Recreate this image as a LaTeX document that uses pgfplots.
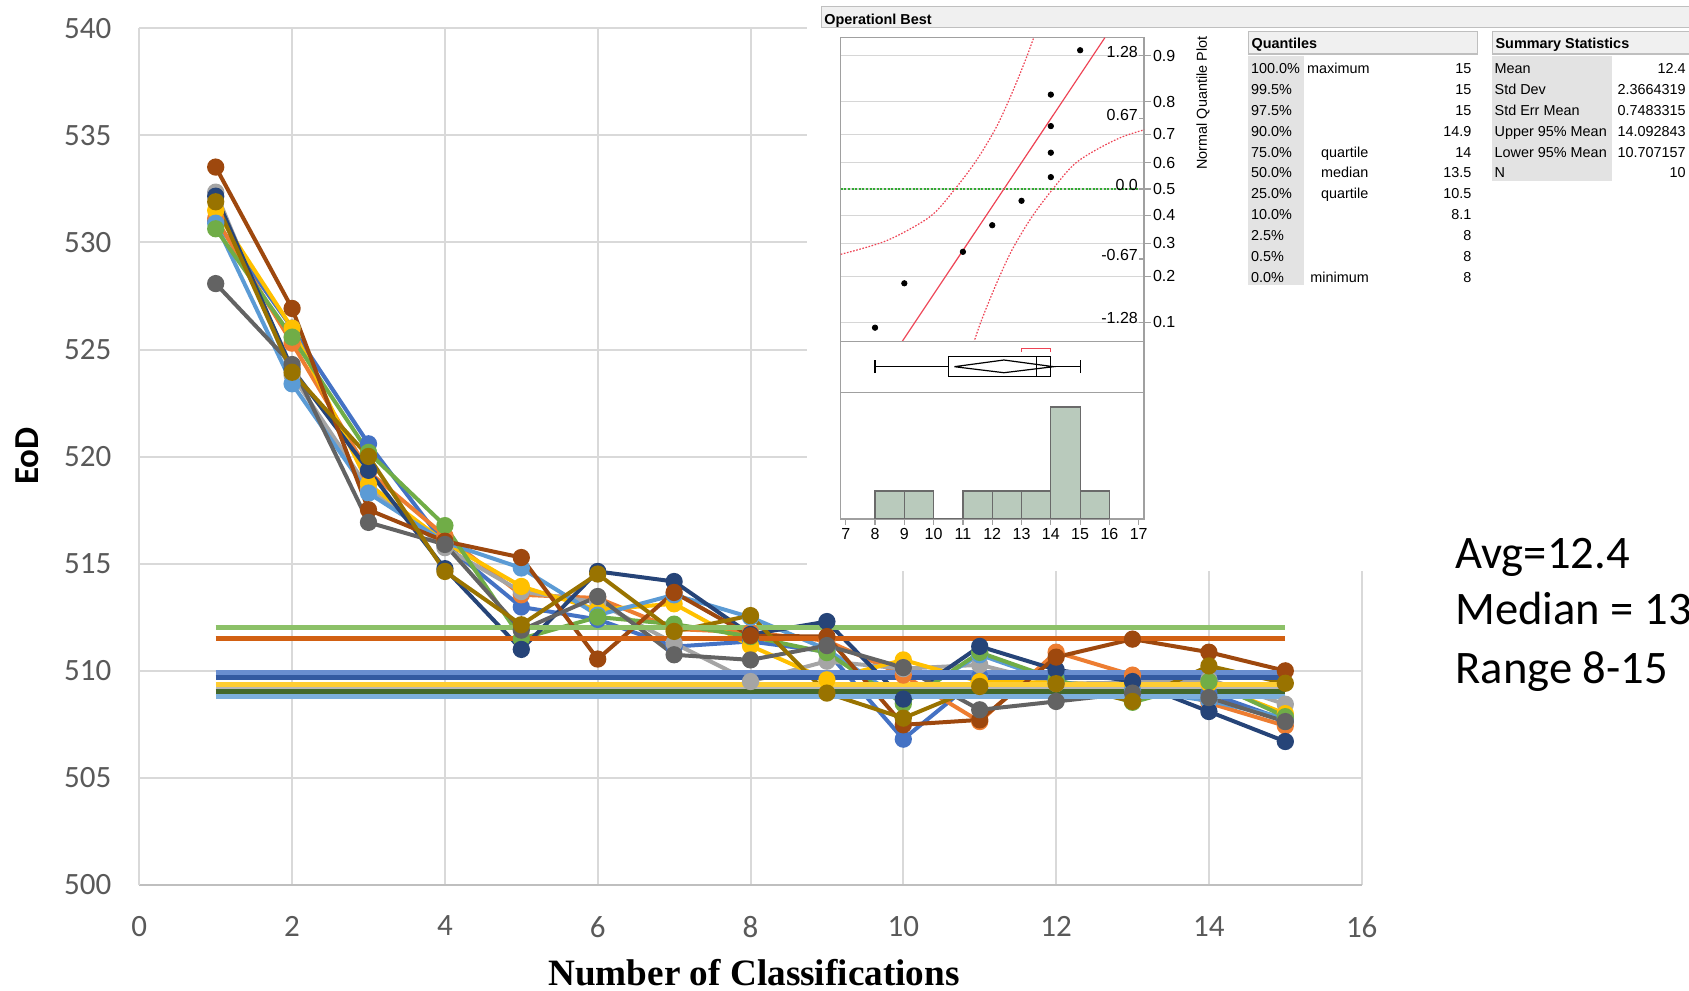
\documentclass[border=0pt]{standalone}
\usepackage{fontspec}
\setmainfont{Carlito}
\newfontfamily\jmpfont{Liberation Sans}
\newfontfamily\serifbf{Liberation Serif}
\usepackage{pgfplots}
\pgfplotsset{compat=1.18}

\definecolor{cA}{HTML}{4472C4}
\definecolor{cB}{HTML}{ED7D31}
\definecolor{cC}{HTML}{A5A5A5}
\definecolor{cD}{HTML}{FFC000}
\definecolor{cE}{HTML}{5B9BD5}
\definecolor{cF}{HTML}{70AD47}
\definecolor{cG}{HTML}{264478}
\definecolor{cH}{HTML}{9E480E}
\definecolor{cI}{HTML}{636363}
\definecolor{cJ}{HTML}{997300}
\definecolor{hA}{HTML}{8CC168}
\definecolor{hB}{HTML}{D26012}
\definecolor{hC}{HTML}{698ED0}
\definecolor{hD}{HTML}{335AA1}
\definecolor{hE}{HTML}{FFCD33}
\definecolor{hF}{HTML}{B7B7B7}
\definecolor{hG}{HTML}{43682B}
\definecolor{hH}{HTML}{7CAFDD}
\definecolor{gridc}{HTML}{D9D9D9}
\definecolor{axisc}{HTML}{BFBFBF}
\definecolor{tickc}{HTML}{595959}
\definecolor{jframe}{HTML}{A0A0A0}
\definecolor{jgrid}{HTML}{D6D6D6}
\definecolor{jhead}{HTML}{F0F0F0}
\definecolor{jcol}{HTML}{E3E3E3}
\definecolor{jred}{HTML}{EE4455}
\definecolor{jgreen}{HTML}{33AA33}
\definecolor{histfill}{HTML}{B9CABC}
\definecolor{histline}{HTML}{6A6A6A}

\newcommand\jf{\jmpfont\fontsize{7.2}{8.5}\selectfont}
\newcommand\jz{\jmpfont\fontsize{8}{9}\selectfont}

\pgfplotsset{
  series/.style={line width=2pt, mark=*, mark size=3.3pt, mark options={solid}},
  hline/.style={line width=2.5pt, no marks},
  jmpaxis/.style={scale only axis, anchor=south west, width=151.65pt,
    xmin=6.829, xmax=17.18, axis line style={jframe, line width=0.6pt},
    tick style={jframe, line width=0.6pt},
    /pgf/number format/assume math mode=true},
}

\begin{document}
\begin{tikzpicture}
\useasboundingbox (0,0) rectangle (844.5pt,495pt);
\clip (0,0) rectangle (844.5pt,495pt);

% main chart
\begin{axis}[at={(69.65pt,52.5pt)}, anchor=south west, scale only axis,
  width=611.2pt, height=428.35pt,
  xmin=0, xmax=16, ymin=500, ymax=540,
  xtick={0,2,...,16}, ytick={500,505,...,540},
  grid=major, major grid style={gridc, line width=1pt},
  axis lines*=left,
  x axis line style={axisc, line width=1.2pt},
  y axis line style={gridc, line width=1pt},
  major tick length=0pt,
  tick label style={font=\fontsize{15.5}{18}\selectfont, text=tickc},
  /pgf/number format/assume math mode=true,
  yticklabel style={xshift=-10.5pt},
  xticklabel style={yshift=-12pt},
]
\addplot[series, cA] coordinates {(1,531.0)(2,526.0)(3,520.6)(4,515.9)(5,512.98)(6,512.4)(7,511.13)(8,511.37)(9,510.9)(10,506.81)(11,509.73)(12,509.8)(13,509.6)(14,508.96)(15,507.7)};
\addplot[series, cB] coordinates {(1,531.12)(2,525.3)(3,519.3)(4,516.3)(5,513.55)(6,513.4)(7,511.95)(8,511.8)(9,511.4)(10,509.8)(11,507.63)(12,510.87)(13,509.8)(14,508.5)(15,507.43)};
\addplot[series, cC] coordinates {(1,532.35)(2,523.8)(3,518.5)(4,515.75)(5,513.7)(6,513.2)(7,511.29)(8,509.5)(9,510.45)(10,510.1)(11,510.28)(12,509.4)(13,509.45)(14,509.6)(15,508.44)};
\addplot[series, cD] coordinates {(1,531.5)(2,526.0)(3,518.72)(4,516.0)(5,513.94)(6,512.85)(7,513.13)(8,511.17)(9,509.58)(10,510.51)(11,509.5)(12,509.45)(13,509.3)(14,509.4)(15,508.0)};
\addplot[series, cE] coordinates {(1,530.9)(2,523.4)(3,518.3)(4,516.0)(5,514.8)(6,512.6)(7,513.55)(8,512.5)(9,511.0)(10,508.6)(11,510.75)(12,509.5)(13,509.1)(14,508.6)(15,507.8)};
\addplot[series, cF] coordinates {(1,530.64)(2,525.58)(3,520.2)(4,516.78)(5,511.5)(6,512.51)(7,512.18)(8,511.6)(9,510.85)(10,508.46)(11,510.86)(12,509.6)(13,508.53)(14,509.5)(15,507.86)};
\addplot[series, cG] coordinates {(1,532.16)(2,524.1)(3,519.36)(4,514.77)(5,511.0)(6,514.64)(7,514.17)(8,511.7)(9,512.3)(10,508.68)(11,511.14)(12,510.05)(13,509.5)(14,508.1)(15,506.7)};
\addplot[series, cH] coordinates {(1,533.52)(2,526.92)(3,517.52)(4,516.05)(5,515.29)(6,510.55)(7,513.66)(8,511.64)(9,511.6)(10,507.48)(11,507.71)(12,510.64)(13,511.48)(14,510.87)(15,510.0)};
\addplot[series, cI] coordinates {(1,528.08)(2,524.3)(3,516.93)(4,515.9)(5,511.9)(6,513.47)(7,510.75)(8,510.51)(9,511.18)(10,510.15)(11,508.18)(12,508.57)(13,508.96)(14,508.75)(15,507.63)};
\addplot[series, cJ] coordinates {(1,531.9)(2,523.94)(3,520.01)(4,514.64)(5,512.15)(6,514.52)(7,511.84)(8,512.58)(9,508.96)(10,507.79)(11,509.27)(12,509.4)(13,508.57)(14,510.23)(15,509.42)};
% level lines
\addplot[hline, hG] coordinates {(1,509.02)(15,509.02)};
\addplot[hline, hC] coordinates {(1,509.93)(15,509.93)};
\addplot[hline, hF] coordinates {(1,509.27)(15,509.27)};
\addplot[hline, hE] coordinates {(1,509.38)(15,509.38)};
\addplot[hline, hH] coordinates {(1,508.78)(15,508.78)};
\addplot[hline, hA] coordinates {(1,512.0)(15,512.0)};
\addplot[hline, hD] coordinates {(1,509.70)(15,509.70)};
\addplot[hline, hB] coordinates {(1,511.5)(15,511.5)};
\end{axis}

\node[font=\serifbf\bfseries\fontsize{18.6}{20}\selectfont, anchor=base] at (377pt,2.5pt) {Number of Classifications};
\node[rotate=90, font=\bfseries\fontsize{17.5}{20}\selectfont] at (13.5pt,267pt) {EoD};

% pasted JMP panel
\fill[white] (403.5pt,209.5pt) rectangle (850pt,500pt);
\filldraw[fill=jhead, draw=axisc, line width=0.6pt] (410.85pt,481.15pt) rectangle (850pt,491.65pt);
\node[anchor=mid west, inner sep=0pt, font=\jf\bfseries] at (412pt,485.3pt) {Operationl Best};

% normal quantile plot
\begin{axis}[jmpaxis, at={(420.35pt,324.15pt)}, height=152pt,
  ymin=-1.470, ymax=1.456, xtick=\empty,
  ytick={-1.2816,-0.8416,-0.5244,-0.2533,0,0.2533,0.5244,0.8416,1.2816},
  yticklabels={0.1,0.2,0.3,0.4,0.5,0.6,0.7,0.8,0.9},
  ytick pos=right, yticklabel pos=right, tick align=outside, major tick length=3.5pt,
  ymajorgrids, major grid style={jgrid, line width=0.6pt},
  yticklabel style={font=\jz, inner sep=0.8pt},
]
\addplot[jgreen, line width=0.6pt, dash pattern=on 1pt off 0.8pt] coordinates {(6.829,0)(17.18,0)};
\addplot[jred, line width=0.6pt, dash pattern=on 0.8pt off 0.8pt, smooth] coordinates {(6.83,-0.629)(8.40,-0.497)(9.88,-0.266)(10.73,0)(11.47,0.279)(12.15,0.6)(12.72,0.953)(13.18,1.274)(13.42,1.46)};
\addplot[jred, line width=0.6pt, dash pattern=on 0.8pt off 0.8pt, smooth] coordinates {(17.97,0.629)(16.40,0.497)(14.92,0.266)(14.07,0)(13.33,-0.279)(12.65,-0.6)(12.08,-0.953)(11.62,-1.274)(11.38,-1.47)};
\addplot[jred, line width=0.6pt] coordinates {(8.921,-1.47)(15.845,1.456)};
\addplot[only marks, mark=*, mark size=1.35pt, black] coordinates {(8,-1.335)(9,-0.908)(11,-0.605)(12,-0.349)(13,-0.114)(14,0.114)(14,0.349)(14,0.605)(14,0.908)(15,1.335)};
\foreach \z/\t in {1.2816/1.28, 0.6745/0.67, 0/0.0, -0.6745/-0.67, -1.2816/-1.28} {
  \edef\tmp{\noexpand\draw[jframe, line width=0.6pt] (axis cs:17.18,\z) -- ([xshift=-2.4pt]axis cs:17.18,\z);
    \noexpand\node[anchor=east, inner sep=0pt, font=\noexpand\jz, yshift=1.9pt] at ([xshift=-2.9pt]axis cs:17.18,\z) {\t};}
  \tmp
}
\end{axis}
\node[rotate=90, font=\jf] at (601.5pt,443.5pt) {Normal Quantile Plot};

% outlier box plot
\begin{axis}[jmpaxis, at={(420.35pt,298.85pt)}, height=25.3pt,
  ymin=0, ymax=1, xtick=\empty, ytick=\empty]
\addplot[black, line width=0.6pt] coordinates {(8,0.506)(10.5,0.506)};
\addplot[black, line width=0.6pt] coordinates {(14,0.506)(15,0.506)};
\addplot[black, line width=0.6pt] coordinates {(8,0.381)(8,0.638)};
\addplot[black, line width=0.6pt] coordinates {(15,0.381)(15,0.638)};
\addplot[black, line width=0.6pt] coordinates {(10.5,0.308)(14,0.308)(14,0.704)(10.5,0.704)(10.5,0.308)};
\addplot[black, line width=0.6pt] coordinates {(13.5,0.308)(13.5,0.704)};
\addplot[black, line width=0.6pt] coordinates {(10.707,0.506)(12.4,0.638)(14.093,0.506)(12.4,0.387)(10.707,0.506)};
\addplot[jred, line width=0.6pt] coordinates {(13,0.802)(13,0.870)(14,0.870)(14,0.802)};
\end{axis}

% histogram
\begin{axis}[jmpaxis, at={(420.35pt,235.5pt)}, height=63.35pt,
  ymin=0, ymax=4.525, ytick=\empty,
  xtick={7,...,17}, xtick pos=bottom, tick align=outside, major tick length=3pt,
  xticklabel style={font=\jz, inner sep=1.5pt},
]
\addplot[ybar interval, fill=histfill, draw=histline, line width=0.6pt] coordinates {(8,1)(9,1)(10,0)(11,1)(12,1)(13,1)(14,4)(15,1)(16,1)};
\end{axis}

% quantiles table
\filldraw[fill=jhead, draw=axisc, line width=0.6pt] (624.15pt,468pt) rectangle (738.65pt,479.15pt);
\node[anchor=mid west, inner sep=0pt, font=\jf\bfseries] at (625.6pt,473.2pt) {Quantiles};
\fill[jcol] (624.15pt,352.5pt) rectangle (652pt,467pt);
\foreach \p/\l/\lx/\v [count=\k from 0] in {100.0\%/maximum/653.35/15, 99.5\%//653.35/15, 97.5\%//653.35/15, 90.0\%//653.35/14.9, 75.0\%/quartile/660.35/14, 50.0\%/median/660.35/13.5, 25.0\%/quartile/660.35/10.5, 10.0\%//653.35/8.1, 2.5\%//653.35/8, 0.5\%//653.35/8, 0.0\%/minimum/655/8} {
  \pgfmathsetmacro\yy{460.5-10.415*\k}
  \node[anchor=mid west, inner sep=0pt, font=\jf] at (625.35pt,\yy pt) {\p};
  \node[anchor=mid west, inner sep=0pt, font=\jf] at (\lx pt,\yy pt) {\l};
  \node[anchor=mid east, inner sep=0pt, font=\jf] at (735.85pt,\yy pt) {\v};
}

% summary statistics table
\filldraw[fill=jhead, draw=axisc, line width=0.6pt] (746.15pt,468pt) rectangle (850pt,479.15pt);
\node[anchor=mid west, inner sep=0pt, font=\jf\bfseries] at (747.6pt,473.2pt) {Summary Statistics};
\fill[jcol] (746.15pt,404.5pt) rectangle (805.85pt,467pt);
\foreach \l/\v [count=\k from 0] in {Mean/12.4, Std Dev/2.3664319, Std Err Mean/0.7483315, Upper 95\% Mean/14.092843, Lower 95\% Mean/10.707157, N/10} {
  \pgfmathsetmacro\yy{460.5-10.415*\k}
  \node[anchor=mid west, inner sep=0pt, font=\jf] at (747.15pt,\yy pt) {\l};
  \node[anchor=mid east, inner sep=0pt, font=\jf] at (843pt,\yy pt) {\v};
}

% notes on the right
\node[anchor=base west, inner sep=0pt, font=\fontsize{23.3}{28}\selectfont] at (727.5pt,210.85pt) {Avg=12.4};
\node[anchor=base west, inner sep=0pt, font=\fontsize{23.3}{28}\selectfont] at (727.5pt,182.5pt) {Median = 13};
\node[anchor=base west, inner sep=0pt, font=\fontsize{23.3}{28}\selectfont] at (727.5pt,153.35pt) {Range 8-15};
\end{tikzpicture}
\end{document}
